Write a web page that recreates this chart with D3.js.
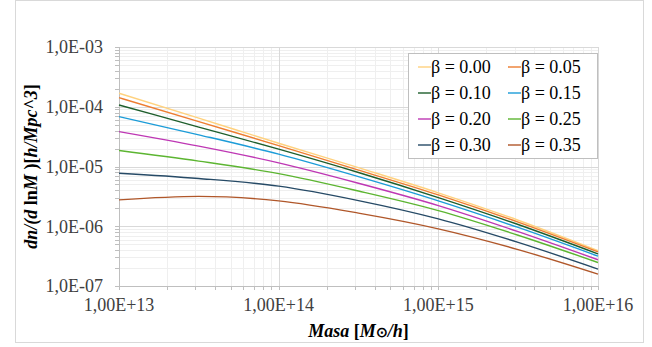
<!DOCTYPE html>
<html>
<head>
<meta charset="utf-8">
<script src="https://cdn.jsdelivr.net/npm/d3@7"></script>
<style>
  body { margin: 0; background: #fff; }
</style>
</head>
<body>
<div id="vis"></div>
<script>
// tamaño de la figura
const WIDTH = 652;
const HEIGHT = 347;

const MARGIN = { top: 47, bottom: 61, left: 119, right: 54 };

// datos
const masas = [1e13, 3.16e13, 1e14, 3.16e14, 1e15, 3.16e15, 1e16];
const betas = ["0.00", "0.05", "0.10", "0.15", "0.20", "0.25", "0.30", "0.35"];
const beta000 = [1.68e-4, 6.46e-5, 2.45e-5, 9.55e-6, 3.63e-6, 1.26e-6, 3.89e-7];
const beta005 = [1.42e-4, 5.62e-5, 2.24e-5, 8.71e-6, 3.35e-6, 1.17e-6, 3.72e-7];
const beta010 = [1.07e-4, 4.57e-5, 1.95e-5, 7.94e-6, 3.02e-6, 1.07e-6, 3.45e-7];
const beta015 = [6.82e-5, 3.39e-5, 1.61e-5, 6.76e-6, 2.66e-6, 9.55e-7, 3.16e-7];
const beta020 = [3.84e-5, 2.19e-5, 1.15e-5, 5.25e-6, 2.22e-6, 8.13e-7, 2.75e-7];
const beta025 = [1.85e-5, 1.23e-5, 7.60e-6, 3.89e-6, 1.83e-6, 7.08e-7, 2.47e-7];
const beta030 = [7.73e-6, 6.31e-6, 4.69e-6, 2.69e-6, 1.33e-6, 5.37e-7, 1.92e-7];
const beta035 = [2.76e-6, 3.16e-6, 2.66e-6, 1.66e-6, 9.06e-7, 4.07e-7, 1.58e-7];
const xTicks = [1e13, 1e14, 1e15, 1e16];
const yTicks = [1e-7, 1e-6, 1e-5, 1e-4, 1e-3];

const colores = ["#FFD27F", "#ED7D31", "#1E5E2C", "#1C9CD8", "#BE37B4", "#5CB531", "#264A66", "#B0572A"];

const series = [beta000, beta005, beta010, beta015, beta020, beta025, beta030, beta035]
  .map((vals, i) => ({ beta: betas[i], color: colores[i], puntos: vals.map((v, j) => [masas[j], v]) }));

const FUENTE = "'Liberation Serif', 'Times New Roman', serif";

const svg = d3.select("#vis").append("svg")
  .attr("width", WIDTH)
  .attr("height", HEIGHT)
  .attr("font-family", FUENTE);

// borde del area del grafico
svg.append("rect")
  .attr("x", 15.5).attr("y", 0.5)
  .attr("width", 628).attr("height", 342)
  .attr("fill", "#fff")
  .attr("stroke", "#d9d9d9");

const w = WIDTH - MARGIN.left - MARGIN.right;
const h = HEIGHT - MARGIN.top - MARGIN.bottom;

const x = d3.scaleLog().domain([1e13, 1e16]).range([0, w]);
const y = d3.scaleLog().domain([1e-7, 1e-3]).range([h, 0]);

const g = svg.append("g").attr("transform", `translate(${MARGIN.left}, ${MARGIN.top})`);

// grilla menor y mayor
const xMinor = x.ticks().filter(d => !xTicks.includes(d));
const yMinor = y.ticks().filter(d => !yTicks.some(t => Math.abs(t - d) / d < 1e-6));

g.selectAll(".xmin").data(xMinor).join("line")
  .attr("x1", d => Math.round(x(d)) + 0.5).attr("x2", d => Math.round(x(d)) + 0.5)
  .attr("y1", 0).attr("y2", h)
  .attr("stroke", "#efefef");
g.selectAll(".ymin").data(yMinor).join("line")
  .attr("y1", d => Math.round(y(d)) + 0.5).attr("y2", d => Math.round(y(d)) + 0.5)
  .attr("x1", 0).attr("x2", w)
  .attr("stroke", "#efefef");
g.selectAll(".xmaj").data(xTicks).join("line")
  .attr("x1", d => Math.round(x(d)) + 0.5).attr("x2", d => Math.round(x(d)) + 0.5)
  .attr("y1", 0).attr("y2", h)
  .attr("stroke", "#d9d9d9");
g.selectAll(".ymaj").data(yTicks).join("line")
  .attr("y1", d => Math.round(y(d)) + 0.5).attr("y2", d => Math.round(y(d)) + 0.5)
  .attr("x1", 0).attr("x2", w)
  .attr("stroke", "#d9d9d9");

// marcas de los ejes
g.selectAll(".yt").data(y.ticks()).join("line")
  .attr("y1", d => Math.round(y(d)) + 0.5).attr("y2", d => Math.round(y(d)) + 0.5)
  .attr("x1", -4).attr("x2", 0)
  .attr("stroke", "#bfbfbf");
g.selectAll(".xt").data(x.ticks()).join("line")
  .attr("x1", d => Math.round(x(d)) + 0.5).attr("x2", d => Math.round(x(d)) + 0.5)
  .attr("y1", h).attr("y2", h + 4)
  .attr("stroke", "#bfbfbf");
g.append("line").attr("x1", 0.5).attr("x2", 0.5).attr("y1", 0).attr("y2", h).attr("stroke", "#bfbfbf");
g.append("line").attr("x1", 0).attr("x2", w).attr("y1", h + 0.5).attr("y2", h + 0.5).attr("stroke", "#bfbfbf");

// etiquetas
const fmtY = d => "1,0E-" + String(-Math.round(Math.log10(d))).padStart(2, "0");
const fmtX = d => "1,00E+" + Math.round(Math.log10(d));

g.selectAll(".ylab").data(yTicks).join("text")
  .attr("x", -16).attr("y", d => y(d))
  .attr("dy", "0.35em")
  .attr("text-anchor", "end")
  .attr("font-size", 18)
  .attr("fill", "#404040")
  .text(fmtY);
g.selectAll(".xlab").data(xTicks).join("text")
  .attr("x", d => x(d)).attr("y", h + 19)
  .attr("dy", "0.35em")
  .attr("text-anchor", "middle")
  .attr("font-size", 18)
  .attr("fill", "#404040")
  .text(fmtX);

// curvas
const linea = d3.line()
  .x(d => x(d[0]))
  .y(d => y(d[1]))
  .curve(d3.curveMonotoneX);

g.selectAll(".serie").data(series).join("path")
  .attr("d", d => linea(d.puntos))
  .attr("fill", "none")
  .attr("stroke", d => d.color)
  .attr("stroke-width", 1.4);

// leyenda
const leyenda = svg.append("g").attr("transform", "translate(408, 53)");
leyenda.append("rect")
  .attr("x", 0.5).attr("y", 0.5)
  .attr("width", 189).attr("height", 105)
  .attr("fill", "#fff")
  .attr("stroke", "#bfbfbf");
const items = leyenda.selectAll(".item").data(series).join("g")
  .attr("transform", (d, i) => `translate(${10 + (i % 2) * 90}, ${14 + Math.floor(i / 2) * 26})`);
items.append("line")
  .attr("x1", 0).attr("x2", 13).attr("y1", 0).attr("y2", 0)
  .attr("stroke", d => d.color).attr("stroke-width", 1.4);
items.append("text")
  .attr("x", 13).attr("y", 0).attr("dy", "0.35em")
  .attr("font-size", 18)
  .attr("fill", "#000")
  .text(d => `β = ${d.beta}`);

// titulos de ejes
const tx = svg.append("text")
  .attr("x", MARGIN.left + w / 2).attr("y", 331)
  .attr("text-anchor", "middle")
  .attr("dy", "0.35em")
  .attr("font-size", 18)
  .attr("font-weight", "bold");
tx.append("tspan").attr("font-style", "italic").text("Masa");
tx.append("tspan").text(" [");
tx.append("tspan").attr("font-style", "italic").text("M");
tx.append("tspan").attr("font-size", 14).text("⊙");
tx.append("tspan").attr("font-style", "italic").text("/h");
tx.append("tspan").text("]");

const ty = svg.append("text")
  .attr("transform", `translate(31, ${MARGIN.top + h / 2}) rotate(-90)`)
  .attr("text-anchor", "middle")
  .attr("dy", "0.35em")
  .attr("font-size", 18)
  .attr("font-weight", "bold");
ty.append("tspan").attr("font-style", "italic").text("dn/(d");
ty.append("tspan").text(" ln");
ty.append("tspan").attr("font-style", "italic").text("M");
ty.append("tspan").text(" )[");
ty.append("tspan").attr("font-style", "italic").text("h/Mpc^3");
ty.append("tspan").text("]");
</script>
</body>
</html>
